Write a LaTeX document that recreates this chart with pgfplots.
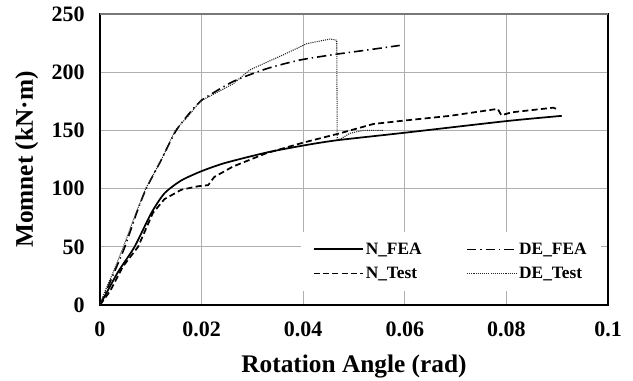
\documentclass[border=0pt]{standalone}
\usepackage{fontspec}
\setmainfont{Liberation Serif}
\usepackage{pgfplots}
\pgfplotsset{compat=1.18}
\definecolor{gridc}{RGB}{175,175,175}
\definecolor{topc}{RGB}{120,120,120}
\begin{document}
\begin{tikzpicture}
\begin{axis}[
  scale only axis, width=381pt, height=218.25pt,
  xmin=0, xmax=0.1, ymin=0, ymax=250,
  xtick={0,0.02,0.04,0.06,0.08,0.1},
  xticklabels={0,0.02,0.04,0.06,0.08,0.1},
  ytick={0,50,100,150,200,250},
  yticklabels={0,50,100,150,200,250},
  scaled x ticks=false,
  grid=major,
  grid style={draw=gridc, line width=1pt},
  tick style={draw=gridc, line width=1pt},
  axis line style={black, line width=0.9pt},
  ticklabel style={font=\fontsize{16.5}{16.5}\selectfont\bfseries},
  xticklabel style={yshift=-9pt},
  yticklabel style={xshift=-8pt},
  xlabel={Rotation Angle (rad)},
  ylabel={Momnet (kN·m)},
  label style={font=\fontsize{19}{19}\selectfont\bfseries},
  xlabel style={at={(axis description cs:0.5,-0.2327)}, anchor=base},
  ylabel style={at={(axis description cs:-0.1319,0.5)}, anchor=base},
  legend columns=2,
  legend cell align=left,
  legend style={at={(axis description cs:0.986,0.048)}, anchor=south east,
    fill=white, draw=none, font=\fontsize{13}{13}\selectfont\bfseries,
    row sep=4pt, inner xsep=9pt, inner ysep=6pt,
    nodes={inner xsep=1.5pt},
    /tikz/every even column/.append style={column sep=32pt}},
  legend image code/.code={\draw[#1] (0pt,0pt) -- (37pt,0pt);},
]
\coordinate (sw) at (rel axis cs:0,0);
\coordinate (nw) at (rel axis cs:0,1);
\coordinate (ne) at (rel axis cs:1,1);
% N_FEA
\addplot[black, line width=1.3pt, smooth, tension=0.4] coordinates {
(0,0) (0.0035,28) (0.0068,50) (0.0101,79) (0.0127,96) (0.016,107) (0.02,115)
(0.0246,122) (0.0328,131) (0.04,137) (0.0466,141.5) (0.06,148) (0.08,158) (0.0909,162.5)};
\addlegendentry{N\_FEA}
% DE_FEA
\addplot[black, line width=1.2pt, dash pattern=on 7pt off 3pt on 1pt off 3pt, smooth, tension=0.4] coordinates {
(0,0) (0.0025,25) (0.0049,50) (0.0072,79) (0.0091,100) (0.0121,125) (0.015,150)
(0.0186,170) (0.02,176) (0.0262,192) (0.0328,203) (0.0394,210.5) (0.0466,215.5)
(0.0525,219) (0.059,223)};
\addlegendentry{DE\_FEA}
% N_Test
\addplot[black, line width=1.3pt, dash pattern=on 4.5pt off 2.5pt] coordinates {
(0,0) (0.002,12) (0.0045,33) (0.0075,50) (0.0104,79) (0.0127,91) (0.016,99)
(0.0193,102) (0.0213,103) (0.0225,110) (0.0262,119) (0.0328,130.5) (0.04,139.5)
(0.0472,147.5) (0.0538,155.5) (0.06,158.5) (0.0689,162.5) (0.0783,168.5)
(0.079,163) (0.081,165.5) (0.0892,169.5) (0.0902,168)};
\addlegendentry{N\_Test}
% DE_Test
\addplot[black!85, line width=0.8pt, dash pattern=on 0.8pt off 0.8pt] coordinates {
(0,0) (0.001,12) (0.0025,27) (0.0046,50) (0.007,78) (0.009,100) (0.012,124)
(0.0148,150) (0.0175,163) (0.0197,175) (0.0262,190) (0.0295,202) (0.0361,215)
(0.0407,224.5) (0.0453,228.5) (0.0466,227.5) (0.0467,142) (0.0475,143)
(0.0492,147.5) (0.0518,150) (0.0558,150)};
\addlegendentry{DE\_Test}
\end{axis}
\draw[topc, line width=1pt] (nw) -- (ne);
\pgfresetboundingbox
\path[use as bounding box] ([xshift=-75pt,yshift=-57pt]sw) rectangle ([xshift=18.75pt,yshift=10.5pt]ne);
\end{tikzpicture}
\end{document}
